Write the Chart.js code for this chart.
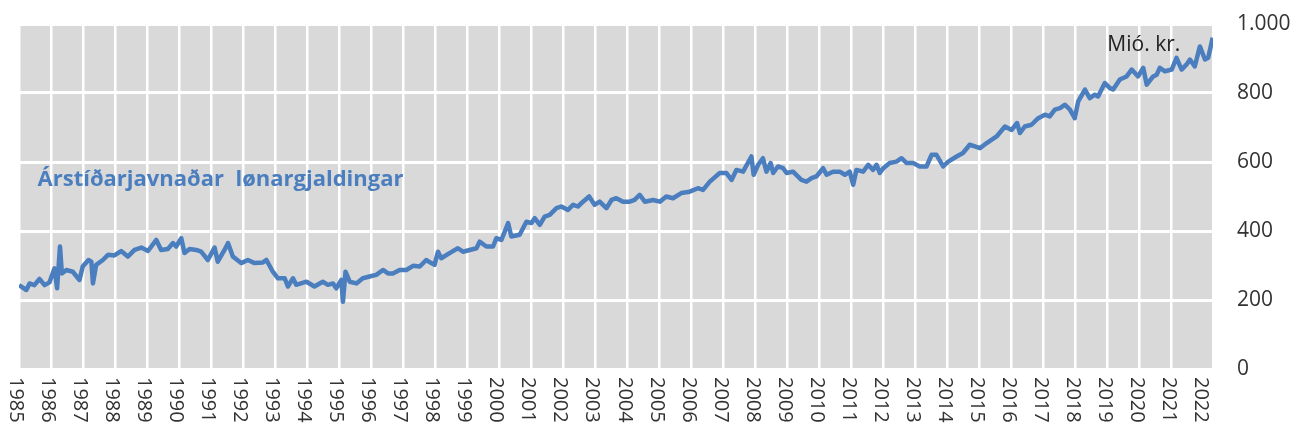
<!DOCTYPE html>
<html>
<head>
<meta charset="utf-8">
<title>Árstíðarjavnaðar lønargjaldingar</title>
<script src="https://cdn.jsdelivr.net/npm/chart.js@4"></script>
<style>
  body { margin: 0; background: #fff; }
  canvas { display: block; }
</style>
</head>
<body>
<canvas id="chart" width="1303" height="435"></canvas>
<script>
// decimal year of each reading, and wage payments in mió. kr.
const years = [
  1985.00, 1985.23, 1985.33, 1985.48, 1985.64, 1985.80, 1985.95, 1986.11, 1986.19, 1986.28,
  1986.34, 1986.48, 1986.68, 1986.89, 1986.99, 1987.17, 1987.26, 1987.31, 1987.41, 1987.62,
  1987.78, 1987.98, 1988.19, 1988.40, 1988.61, 1988.82, 1989.03, 1989.29, 1989.44, 1989.65,
  1989.81, 1989.91, 1990.07, 1990.17, 1990.33, 1990.54, 1990.69, 1990.90, 1991.11, 1991.21,
  1991.42, 1991.53, 1991.68, 1991.94, 1992.15, 1992.36, 1992.62, 1992.73, 1992.93, 1993.09,
  1993.30, 1993.40, 1993.56, 1993.66, 1993.98, 1994.23, 1994.49, 1994.65, 1994.81, 1994.91,
  1995.07, 1995.12, 1995.20, 1995.33, 1995.54, 1995.74, 1995.95, 1996.16, 1996.37, 1996.53,
  1996.68, 1996.89, 1997.10, 1997.31, 1997.52, 1997.72, 1997.88, 1997.98, 1998.09, 1998.19,
  1998.45, 1998.71, 1998.87, 1999.08, 1999.29, 1999.39, 1999.60, 1999.81, 1999.91, 2000.07,
  2000.28, 2000.38, 2000.64, 2000.85, 2001.01, 2001.11, 2001.27, 2001.42, 2001.58, 2001.79,
  2001.94, 2002.15, 2002.31, 2002.46, 2002.62, 2002.81, 2002.98, 2003.14, 2003.35, 2003.51,
  2003.66, 2003.87, 2004.08, 2004.23, 2004.39, 2004.55, 2004.81, 2005.02, 2005.22, 2005.43,
  2005.69, 2005.95, 2006.21, 2006.37, 2006.58, 2006.89, 2007.10, 2007.26, 2007.41, 2007.62,
  2007.88, 2007.95, 2008.09, 2008.24, 2008.35, 2008.48, 2008.56, 2008.71, 2008.87, 2008.98,
  2009.18, 2009.44, 2009.60, 2009.76, 2009.91, 2010.12, 2010.23, 2010.43, 2010.64, 2010.80,
  2010.95, 2011.06, 2011.16, 2011.37, 2011.53, 2011.68, 2011.79, 2011.89, 2012.00, 2012.20,
  2012.41, 2012.57, 2012.73, 2012.93, 2013.14, 2013.35, 2013.51, 2013.66, 2013.87, 2014.03,
  2014.29, 2014.49, 2014.70, 2014.86, 2015.02, 2015.23, 2015.38, 2015.54, 2015.80, 2016.01,
  2016.18, 2016.27, 2016.42, 2016.63, 2016.84, 2017.05, 2017.20, 2017.36, 2017.52, 2017.67,
  2017.83, 2017.98, 2018.09, 2018.30, 2018.45, 2018.61, 2018.71, 2018.92, 2019.08, 2019.18,
  2019.39, 2019.60, 2019.76, 2019.96, 2020.12, 2020.23, 2020.43, 2020.54, 2020.64, 2020.80,
  2021.01, 2021.16, 2021.32, 2021.47, 2021.58, 2021.73, 2021.89, 2022.05, 2022.15, 2022.29
];
const wages = [
  243, 229, 248, 243, 261, 243, 251, 292, 234, 355,
  277, 287, 282, 258, 297, 316, 311, 248, 302, 316,
  331, 329, 342, 326, 345, 352, 342, 374, 345, 348,
  365, 355, 379, 336, 348, 345, 340, 316, 352, 311,
  345, 365, 326, 307, 316, 307, 309, 316, 282, 263,
  263, 239, 263, 244, 253, 239, 253, 244, 248, 234,
  258, 195, 282, 253, 248, 263, 268, 273, 287, 277,
  277, 287, 287, 299, 297, 316, 307, 302, 340, 321,
  336, 350, 340, 345, 350, 369, 355, 355, 379, 374,
  423, 384, 389, 427, 423, 437, 418, 442, 447, 466,
  471, 461, 476, 471, 485, 500, 476, 485, 466, 490,
  495, 485, 485, 490, 505, 485, 490, 485, 500, 495,
  510, 514, 524, 519, 543, 568, 568, 548, 577, 572,
  616, 563, 592, 611, 572, 597, 568, 587, 582, 568,
  572, 548, 543, 553, 558, 582, 563, 572, 572, 563,
  572, 534, 577, 572, 592, 577, 592, 568, 582, 597,
  601, 611, 597, 597, 587, 587, 621, 621, 587, 601,
  616, 626, 650, 645, 640, 655, 664, 674, 703, 693,
  713, 684, 703, 708, 727, 737, 732, 752, 756, 766,
  752, 727, 776, 810, 785, 795, 790, 829, 814, 810,
  839, 848, 868, 848, 873, 824, 848, 853, 873, 863,
  868, 902, 868, 882, 897, 877, 935, 897, 902, 960
];
const yearLabels = [
  '1985', '1986', '1987', '1988', '1989', '1990', '1991', '1992', '1993', '1994',
  '1995', '1996', '1997', '1998', '1999', '2000', '2001', '2002', '2003', '2004',
  '2005', '2006', '2007', '2008', '2009', '2010', '2011', '2012', '2013', '2014',
  '2015', '2016', '2017', '2018', '2019', '2020', '2021', '2022'
];
const seriesName = 'Árstíðarjavnaðar  lønargjaldingar';
const unitLabel = 'Mió. kr.';

const lineColor = '#4a7ebf';
const fontFamily = '"Open Sans", "Liberation Sans", sans-serif';

const points = years.map((x, i) => ({ x: x, y: wages[i] }));

// grey plot background
const plotBackground = {
  id: 'plotBackground',
  beforeDraw(chart) {
    const { ctx, chartArea: a } = chart;
    ctx.save();
    ctx.fillStyle = '#d9d9d9';
    ctx.fillRect(a.left, a.top, a.right - a.left, a.bottom - a.top);
    ctx.restore();
  }
};

// year labels turned a quarter clockwise, plus the two text notes
const extraText = {
  id: 'extraText',
  afterDraw(chart) {
    const { ctx, scales } = chart;
    const xs = scales.x, ys = scales.y;
    ctx.save();
    ctx.fillStyle = '#333';
    ctx.font = '20px ' + fontFamily;
    ctx.textAlign = 'left';
    ctx.textBaseline = 'middle';
    yearLabels.forEach(lbl => {
      const px = xs.getPixelForValue(Number(lbl)) - 3;
      ctx.save();
      ctx.translate(px, chart.chartArea.bottom + 8);
      ctx.rotate(Math.PI / 2);
      ctx.fillText(lbl, 0, 0);
      ctx.restore();
    });

    ctx.fillStyle = lineColor;
    ctx.font = 'bold 22px ' + fontFamily;
    ctx.fillText(seriesName, xs.getPixelForValue(1985.58), ys.getPixelForValue(548));

    ctx.fillStyle = '#222';
    ctx.font = '21px ' + fontFamily;
    ctx.fillText(unitLabel, xs.getPixelForValue(2019.0), ys.getPixelForValue(940));
    ctx.restore();
  }
};

new Chart(document.getElementById('chart'), {
  type: 'line',
  data: {
    datasets: [{
      label: seriesName,
      data: points,
      borderColor: lineColor,
      borderWidth: 4.5,
      borderJoinStyle: 'round',
      pointRadius: 0,
      tension: 0,
      fill: false
    }]
  },
  options: {
    responsive: false,
    animation: false,
    layout: { padding: { left: 19, top: 24, right: 0, bottom: 0 } },
    plugins: {
      legend: { display: false },
      tooltip: { enabled: false }
    },
    scales: {
      x: {
        type: 'linear',
        min: 1985,
        max: 2022.3,
        border: { display: false },
        grid: { color: '#ffffff', lineWidth: 2.5, drawTicks: false },
        ticks: { display: false, stepSize: 1 },
        afterFit(scale) { scale.height = 66; }
      },
      y: {
        position: 'right',
        min: 0,
        max: 1000,
        border: { display: false },
        grid: { color: '#ffffff', lineWidth: 3, drawTicks: false },
        ticks: {
          stepSize: 200,
          padding: 24,
          color: '#333',
          font: { size: 21, family: fontFamily },
          callback: v => v.toLocaleString('de-DE')
        },
        afterFit(scale) {
          scale.width = 90;
          scale.paddingTop = 0;
          scale.paddingBottom = 0;
        }
      }
    }
  },
  plugins: [plotBackground, extraText]
});
</script>
</body>
</html>
